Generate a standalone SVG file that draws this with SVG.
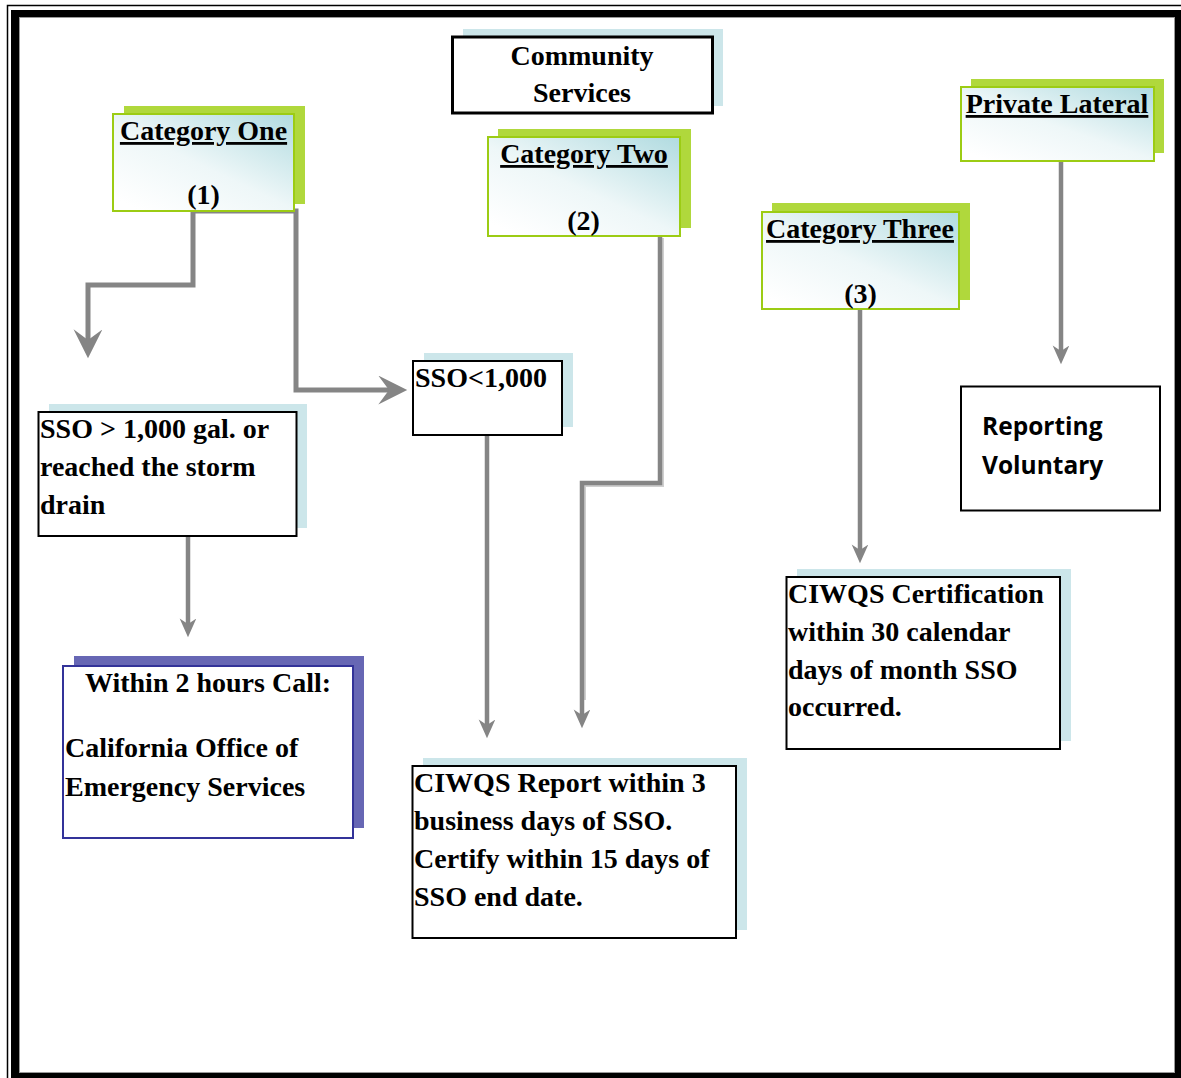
<svg xmlns="http://www.w3.org/2000/svg" width="1181" height="1078" viewBox="0 0 1181 1078">
<style>
.t{font-family:"Liberation Serif","Times New Roman",serif;font-weight:bold;font-size:28px;fill:#000}
.h{text-decoration:underline}
.c{text-anchor:middle}
.s{font-family:"Open Sans","Liberation Sans",sans-serif;font-weight:bold;font-size:24.5px;fill:#000}
.blue{fill:#cce6ea}
.green{fill:#b0d83c}
.cat{fill:url(#g);stroke:#9ccc14;stroke-width:2}
.box{fill:#fff;stroke:#000;stroke-width:2}
.con{fill:none;stroke:#858585;stroke-width:4.5}
.big{marker-end:url(#ab)}
.sm{marker-end:url(#as)}
</style>
<defs>
<linearGradient id="g" x1="0.1" y1="0.95" x2="0.95" y2="0">
<stop offset="0" stop-color="#ffffff"/>
<stop offset="0.45" stop-color="#eef7f8"/>
<stop offset="1" stop-color="#b3dce1"/>
</linearGradient>
<marker id="ab" markerUnits="userSpaceOnUse" markerWidth="30" markerHeight="30" viewBox="0 0 28 28" refX="10" refY="13.5" orient="auto">
<path d="M0,0 L27,13.5 L0,27 L10,13.5 Z" fill="#858585"/>
</marker>
<marker id="as" markerUnits="userSpaceOnUse" markerWidth="20" markerHeight="18" viewBox="0 0 18 16" refX="5" refY="7.5" orient="auto">
<path d="M0,0 L17,7.5 L0,15 L5,7.5 Z" fill="#858585"/>
</marker>
</defs>
<rect width="1181" height="1078" fill="#fff"/>
<g id="frame">
<rect x="7.5" y="5.5" width="1200" height="1100" fill="none" stroke="#000" stroke-width="1.5"/>
<path fill="#000" fill-rule="evenodd" d="M11,10 H1190 V1090 H11 Z M19,17 H1175 V1073 H19 Z"/>
<rect x="19.5" y="17.5" width="1155" height="1055" fill="none" stroke="#999" stroke-width="1"/>
</g>
<g id="connectors">
<path class="con" d="M193,211 H296 V390 H389" style="stroke-width:5" marker-end="url(#ab)"/>
<path class="con" d="M193,211 V285 H88 V340" style="stroke-width:5" marker-end="url(#ab)"/>
<path class="con sm" d="M188,536 V624"/>
<path class="con sm" d="M487,435 V725"/>
<path d="M662,238 V485 H584 V700" fill="none" stroke="#cfcfcf" stroke-width="4"/>
<path class="con sm" d="M660,236 V483 H582 V715"/>
<path class="con sm" d="M860,309 V550"/>
<path class="con sm" d="M1061,161 V351"/>
</g>
<g id="community">
<rect class="blue" x="463" y="29" width="260" height="77"/>
<rect x="452.5" y="37" width="260" height="76" fill="#fff" stroke="#000" stroke-width="3"/>
<text class="t c" x="582" y="65">Community</text>
<text class="t c" x="582" y="102">Services</text>
</g>
<g id="cat1">
<rect class="green" x="124" y="106" width="181" height="98"/>
<rect class="cat" x="113" y="114" width="181" height="97"/>
<text class="t c h" x="203.5" y="140">Category One</text>
<text class="t c" x="203.5" y="204">(1)</text>
</g>
<g id="cat2">
<rect class="green" x="498" y="129" width="193" height="99"/>
<rect class="cat" x="488" y="137" width="192" height="99"/>
<text class="t c h" x="584" y="163">Category Two</text>
<text class="t c" x="583.5" y="230">(2)</text>
</g>
<g id="cat3">
<rect class="green" x="772" y="203" width="198" height="97"/>
<rect class="cat" x="762" y="212" width="197" height="97"/>
<text class="t c h" x="860" y="238">Category Three</text>
<text class="t c" x="860.5" y="303">(3)</text>
</g>
<g id="private">
<rect class="green" x="971" y="79" width="193" height="74"/>
<rect class="cat" x="961" y="87" width="193" height="74"/>
<text class="t c h" x="1057" y="113">Private Lateral</text>
</g>
<g id="sso-small">
<rect class="blue" x="424" y="353" width="149" height="74"/>
<rect class="box" x="413" y="361" width="149" height="74"/>
<text class="t" x="415" y="387">SSO&lt;1,000</text>
</g>
<g id="sso-big">
<rect class="blue" x="49" y="404" width="258" height="124"/>
<rect class="box" x="38.5" y="412" width="258" height="124"/>
<text class="t" x="40" y="438">SSO &gt; 1,000 gal. or</text>
<text class="t" x="40" y="476">reached the storm</text>
<text class="t" x="40" y="514">drain</text>
</g>
<g id="oes">
<rect x="74" y="656" width="290" height="172" fill="#6767b4"/>
<rect x="63" y="666" width="290" height="172" fill="#fff" stroke="#333399" stroke-width="2"/>
<text class="t c" x="208" y="692">Within 2 hours Call:</text>
<text class="t" x="65" y="757">California Office of</text>
<text class="t" x="65" y="796">Emergency Services</text>
</g>
<g id="report">
<rect class="blue" x="423" y="758" width="324" height="172"/>
<rect class="box" x="412.5" y="766" width="323.5" height="172"/>
<text class="t" x="414" y="792">CIWQS Report within 3</text>
<text class="t" x="414" y="830">business days of SSO.</text>
<text class="t" x="414" y="868">Certify within 15 days of</text>
<text class="t" x="414" y="906">SSO end date.</text>
</g>
<g id="cert">
<rect class="blue" x="797" y="569" width="274" height="172"/>
<rect class="box" x="786.5" y="577" width="273.5" height="172"/>
<text class="t" x="788" y="603">CIWQS Certification</text>
<text class="t" x="788" y="641">within 30 calendar</text>
<text class="t" x="788" y="679">days of month SSO</text>
<text class="t" x="788" y="716">occurred.</text>
</g>
<g id="voluntary">
<rect class="box" x="961" y="386.5" width="199" height="124"/>
<text class="s" x="982" y="435">Reporting</text>
<text class="s" x="982" y="474">Voluntary</text>
</g>
</svg>
